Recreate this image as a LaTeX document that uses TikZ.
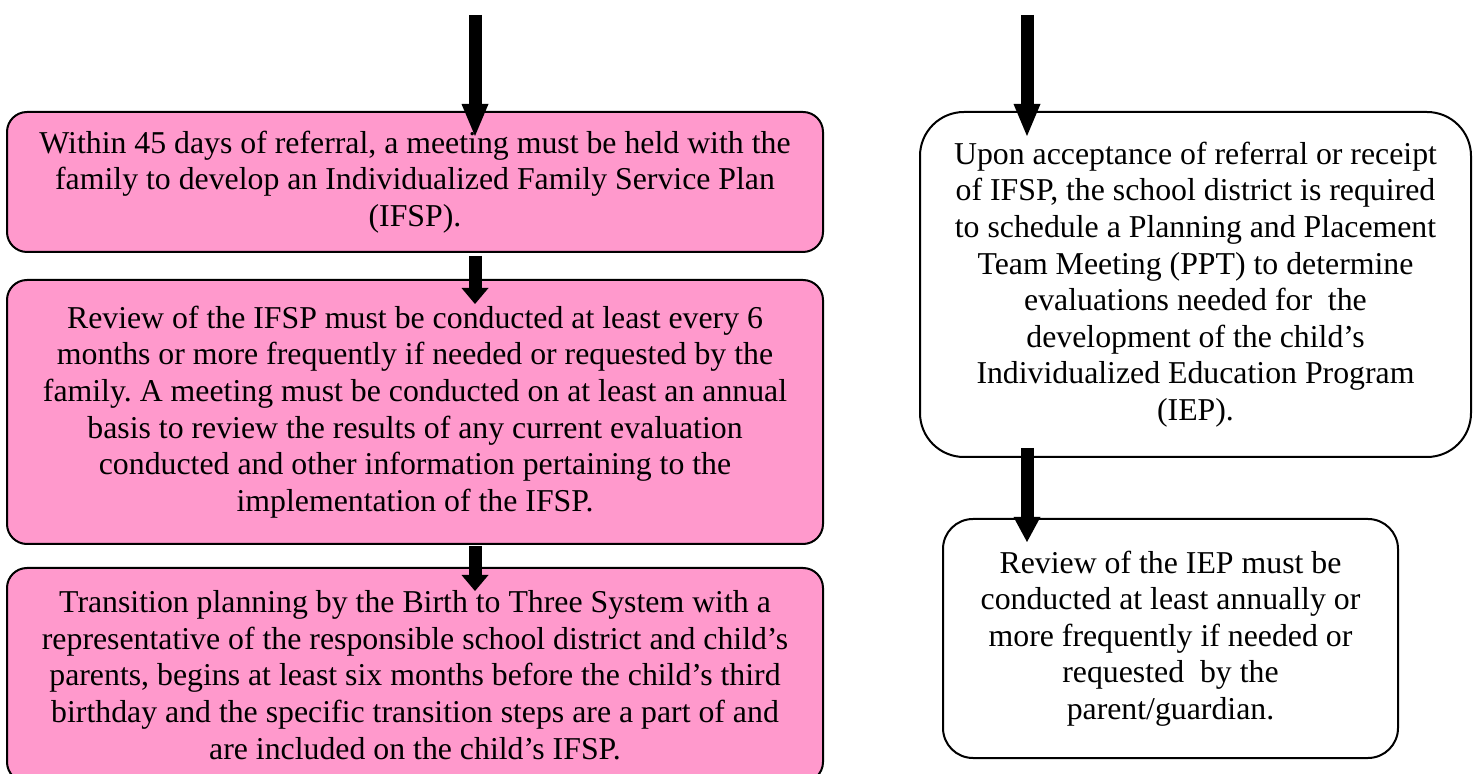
\documentclass[tikz,border=0pt]{standalone}
\usepackage{fontspec}
\setmainfont{Liberation Serif}
\usetikzlibrary{arrows.meta}
\definecolor{rose}{HTML}{FF99CC}
\frenchspacing
\begin{document}
\begin{tikzpicture}[x=0.5pt,y=-0.5pt,
 box/.style={draw=black, line width=1pt, align=center, inner sep=0pt, font=\fontsize{15.9pt}{18.3pt}\selectfont},
 pinkbox/.style={box, fill=rose, rounded corners=10pt, minimum width=408pt},
 whitebox/.style={box, fill=white},
 bigarrow/.style={line width=6.5pt, -{Triangle[width=13.5pt,length=16pt,line width=0pt]}},
 midarrow/.style={line width=6.5pt, -{Triangle[width=13.5pt,length=12.5pt,line width=0pt]}},
 smallarrow/.style={line width=6.5pt, -{Triangle[width=13.5pt,length=8pt,line width=0pt]}}]
\useasboundingbox (0,0) rectangle (1478,774);
\clip (0,0) rectangle (1478,774);
\fill[white] (0,0) rectangle (1478,774);
% left column
\node[pinkbox, minimum height=70pt] (l1) at (415,182) {Within 45 days of referral, a meeting must be held with the\\family to develop an Individualized Family Service Plan\\(IFSP).};
\node[pinkbox, minimum height=132pt] (l2) at (415,412) {Review of the IFSP must be conducted at least every 6\\months or more frequently if needed or requested by the\\family. A meeting must be conducted on at least an annual\\basis to review the results of any current evaluation\\conducted and other information pertaining to the\\implementation of the IFSP.};
\node[pinkbox, minimum height=107pt] (l3) at (415,675) {Transition planning by the Birth to Three System with a\\representative of the responsible school district and child’s\\parents, begins at least six months before the child’s third\\birthday and the specific transition steps are a part of and\\are included on the child’s IFSP.};
% right column
\node[whitebox, rounded corners=22pt, minimum width=275.5pt, minimum height=172.5pt] (r1) at (1195.5,284.5) {Upon acceptance of referral or receipt\\of IFSP, the school district is required\\to schedule a Planning and Placement\\Team Meeting (PPT) to determine\\evaluations needed for\ \ the\\development of the child’s\\Individualized Education Program\\(IEP).};
\node[whitebox, rounded corners=15pt, minimum width=227.5pt, minimum height=119.5pt] (r2) at (1170.5,638.5) {Review of the IEP must be\\conducted at least annually or\\more frequently if needed or\\requested\ \ by the\\parent/guardian.};
% connectors
\coordinate (ls) at (475,15);
\coordinate (rs) at (1027,15);
\draw[bigarrow] (ls) -- ([shift={(60,25)}]l1.north);
\draw[smallarrow] ([shift={(60,3)}]l1.south) -- ([shift={(60,25)}]l2.north);
\draw[smallarrow] ([shift={(60,1)}]l2.south) -- ([shift={(60,24)}]l3.north);
\draw[bigarrow] (rs) -- ([shift={(-168.5,25)}]r1.north);
\draw[midarrow] ([shift={(-168.5,-10)}]r1.south) -- ([shift={(-143.5,24)}]r2.north);
\end{tikzpicture}
\end{document}
